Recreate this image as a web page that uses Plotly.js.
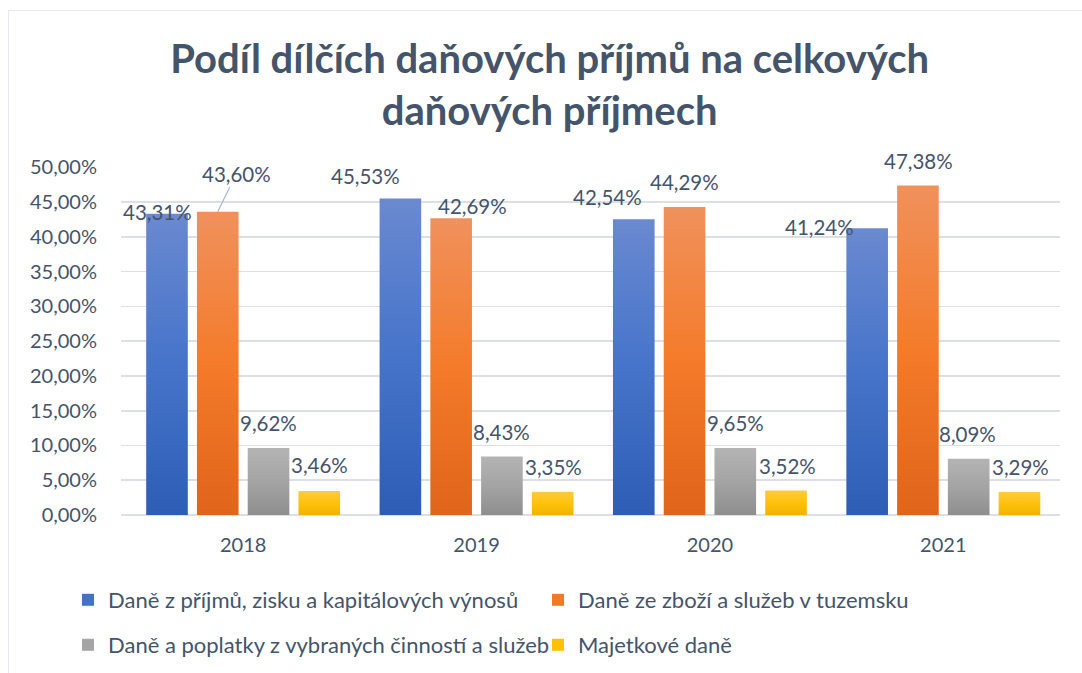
<!DOCTYPE html>
<html>
<head>
<meta charset="utf-8">
<script src="https://cdn.plot.ly/plotly-3.0.1.min.js"></script>
<style>
  html, body { margin: 0; padding: 0; background: #ffffff; }
  #wrap { position: relative; width: 1082px; height: 673px; overflow: hidden; }
  #chart { width: 1082px; height: 673px; }
  #frame { position: absolute; left: 8px; top: 10px; width: 1100px; height: 700px;
           border: 1.5px solid #E6E9EE; pointer-events: none; box-sizing: border-box; }
</style>
</head>
<body>
<div id="wrap">
  <div id="chart"></div>
  <div id="frame"></div>
</div>
<script>
// ---- data ----
var years = ['2018', '2019', '2020', '2021'];
var seriesNames = [
  'Daně z příjmů, zisku a kapitálových výnosů',
  'Daně ze zboží a služeb v tuzemsku',
  'Daně a poplatky z vybraných činností a služeb',
  'Majetkové daně'
];
var incomeTax   = [43.31, 45.53, 42.54, 41.24];
var goodsTax    = [43.60, 42.69, 44.29, 47.38];
var servicesTax = [9.62, 8.43, 9.65, 8.09];
var propertyTax = [3.46, 3.35, 3.52, 3.29];
var yTicks = [0, 5, 10, 15, 20, 25, 30, 35, 40, 45, 50];

// ---- styling ----
var allSeries = [incomeTax, goodsTax, servicesTax, propertyTax];
var baseColors = ['#4472C4', '#F07A28', '#A5A5A5', '#FFC000'];
var gradStops = [
  ['#6A89D0', '#4674CA', '#2E5DB6'],
  ['#F0915C', '#F47B2A', '#E0641A'],
  ['#B4B4B4', '#A4A4A4', '#8E8E8E'],
  ['#FFCA3E', '#FFC20A', '#F0B400']
];
var textColor = '#44546A';
var fontFam = 'Lato, "Noto Sans", sans-serif';
var bargap = 0.13;
var nSeries = 4;

function fmt(v) { return v.toFixed(2).replace('.', ',') + '%'; }

var traces = allSeries.map(function (vals, i) {
  return {
    type: 'bar',
    name: seriesNames[i],
    x: years,
    y: vals,
    marker: { color: baseColors[i], line: { width: 0 } },
    legend: i < 2 ? 'legend' : 'legend2',
    hoverinfo: 'skip'
  };
});

// label placement (pixel nudges relative to bar top-centre)
var labelNudge = [
  [[-9.5, 2], [-35, 22], [-26.5, 22], [-48, 1]],
  [[0, 0],    [21.5, 12], [0, 25],    [1, 25]],
  [[0, 25],   [-0.5, 24], [0, 24.5],  [-1, 25]],
  [[0, 25.5], [0.5, 25],  [1, 25],    [1, 25]]
];

var slot = (1 - bargap) / nSeries;
var annotations = [];
allSeries.forEach(function (vals, i) {
  vals.forEach(function (v, j) {
    var xc = j + (i - (nSeries - 1) / 2) * slot;
    var a = {
      x: xc, y: v, xref: 'x', yref: 'y',
      text: fmt(v),
      font: { family: fontFam, size: 20.5, color: textColor },
      xanchor: 'center', yanchor: 'middle'
    };
    if (i === 1 && j === 0) {
      a.showarrow = true;
      a.arrowhead = 0;
      a.arrowwidth = 1.2;
      a.arrowcolor = '#A9B7CA';
      a.ax = 18.5;
      a.ay = -38;
      a.standoff = 0;
      a.startstandoff = 0;
    } else {
      a.showarrow = false;
      a.xshift = labelNudge[i][j][0];
      a.yshift = labelNudge[i][j][1];
    }
    annotations.push(a);
  });
});

var legendBase = {
  orientation: 'h',
  xref: 'container', yref: 'container',
  x: 68 / 1082, xanchor: 'left',
  yanchor: 'top',
  entrywidth: 425, entrywidthmode: 'pixels',
  itemwidth: 30,
  font: { family: fontFam, size: 22, color: textColor },
  bgcolor: 'rgba(0,0,0,0)',
  traceorder: 'normal'
};
var legend1 = Object.assign({}, legendBase, { y: 1 - 579 / 673 });
var legend2 = Object.assign({}, legendBase, { y: 1 - 624 / 673 });

var layout = {
  width: 1082,
  height: 673,
  paper_bgcolor: '#ffffff',
  plot_bgcolor: '#ffffff',
  margin: { l: 121, r: 22, t: 167, b: 158, pad: 0 },
  font: { family: fontFam, color: textColor },
  title: {
    text: 'Podíl dílčích daňových příjmů na celkových<br>daňových příjmech',
    font: { family: fontFam, size: 40, color: textColor, weight: 'bold' },
    x: 0.508, xref: 'container', xanchor: 'center',
    y: 1 - 73 / 673, yref: 'container', yanchor: 'middle'
  },
  barmode: 'group',
  bargap: bargap,
  bargroupgap: 0.18,
  xaxis: {
    type: 'category',
    showgrid: false,
    showline: false,
    ticks: '',
    ticklabelstandoff: 16,
    tickfont: { family: fontFam, size: 20, color: textColor },
    fixedrange: true
  },
  yaxis: {
    range: [0, 50.05],
    tickmode: 'array',
    tickvals: yTicks,
    ticktext: yTicks.map(fmt),
    showgrid: true,
    gridcolor: '#DCE0E6',
    gridwidth: 1.6,
    zeroline: true,
    zerolinecolor: '#DCE0E6',
    zerolinewidth: 1.6,
    showline: false,
    ticks: '',
    ticklabelstandoff: 23,
    tickfont: { family: fontFam, size: 20, color: textColor },
    fixedrange: true
  },
  legend: legend1,
  legend2: legend2,
  annotations: annotations,
  showlegend: true
};

var gd = document.getElementById('chart');
Plotly.newPlot(gd, traces, layout, { displayModeBar: false, staticPlot: true }).then(function () {
  // Excel-like vertical gradient fill on each bar series
  var svgNS = 'http://www.w3.org/2000/svg';
  var svg = gd.querySelector('svg.main-svg');
  var defs = svg.querySelector('defs') || svg.insertBefore(document.createElementNS(svgNS, 'defs'), svg.firstChild);
  gradStops.forEach(function (stops, i) {
    var lg = document.createElementNS(svgNS, 'linearGradient');
    lg.setAttribute('id', 'barGrad' + i);
    lg.setAttribute('x1', '0'); lg.setAttribute('y1', '0');
    lg.setAttribute('x2', '0'); lg.setAttribute('y2', '1');
    stops.forEach(function (c, k) {
      var st = document.createElementNS(svgNS, 'stop');
      st.setAttribute('offset', (k / (stops.length - 1) * 100) + '%');
      st.setAttribute('stop-color', c);
      lg.appendChild(st);
    });
    defs.appendChild(lg);
  });
  var barTraces = gd.querySelectorAll('.barlayer .trace');
  barTraces.forEach(function (tr, i) {
    tr.querySelectorAll('path').forEach(function (p) {
      p.style.fill = 'url(#barGrad' + i + ')';
    });
  });
});
</script>
</body>
</html>
